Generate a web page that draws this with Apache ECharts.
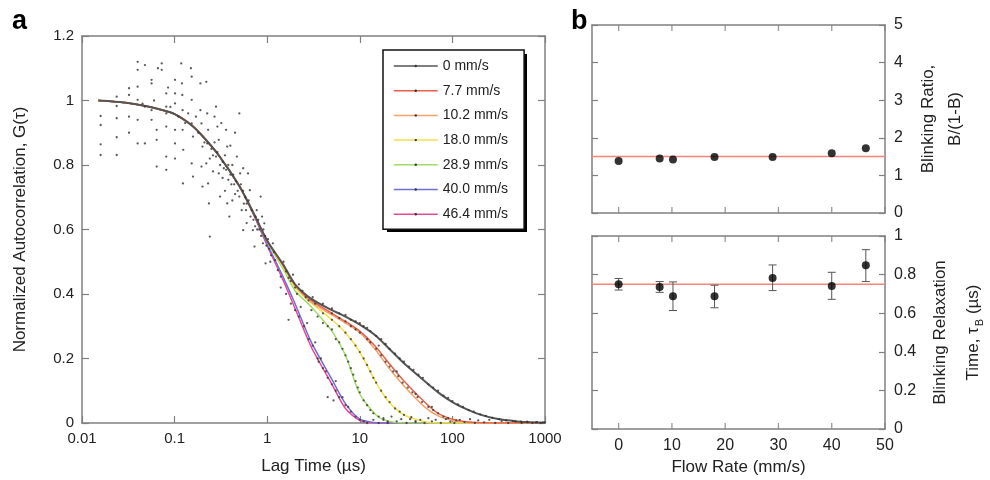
<!DOCTYPE html>
<html><head><meta charset="utf-8">
<script src="https://cdn.jsdelivr.net/npm/echarts@6/dist/echarts.min.js"></script>
<style>html,body{margin:0;padding:0;background:#fff}#c{width:990px;height:480px}</style>
</head><body><div id="c"></div>
<script>
// ---------- Panel a data ----------
const lagTimes = [0.015,0.02,0.03,0.05,0.07,0.1,0.15,0.2,0.3,0.5,0.7,1,1.5,2,3,5,7,10,15,20,30,50,70,100,150,200,300,500,700,1000];
const fit0mm   = [1.0,0.998,0.993,0.982,0.972,0.958,0.925,0.89,0.83,0.735,0.655,0.565,0.49,0.43,0.385,0.35,0.33,0.305,0.27,0.235,0.185,0.13,0.095,0.065,0.04,0.026,0.013,0.005,0.002,0.001];
const fit7mm   = [1.0,0.998,0.993,0.982,0.972,0.958,0.925,0.89,0.83,0.735,0.655,0.565,0.488,0.428,0.38,0.34,0.315,0.285,0.235,0.19,0.13,0.065,0.03,0.012,0.003,0.001,0,0,0,0];
const fit10mm  = [1.0,0.998,0.993,0.982,0.972,0.958,0.925,0.89,0.83,0.735,0.655,0.565,0.486,0.426,0.375,0.335,0.31,0.28,0.225,0.175,0.115,0.05,0.022,0.008,0.002,0,0,0,0,0];
const fit18mm  = [1.0,0.998,0.993,0.982,0.972,0.958,0.925,0.89,0.83,0.735,0.655,0.563,0.482,0.42,0.372,0.32,0.28,0.22,0.125,0.07,0.025,0.004,0,0,0,0,0,0,0,0];
const fit29mm  = [1.0,0.998,0.993,0.982,0.972,0.958,0.925,0.89,0.83,0.735,0.655,0.562,0.476,0.41,0.36,0.285,0.21,0.09,0.025,0.006,0,0,0,0,0,0,0,0,0,0];
const fit40mm  = [1.0,0.998,0.993,0.982,0.972,0.958,0.925,0.89,0.83,0.735,0.653,0.555,0.45,0.37,0.25,0.135,0.06,0.012,0.001,0,0,0,0,0,0,0,0,0,0,0];
const fit46mm  = [1.0,0.998,0.993,0.982,0.972,0.958,0.925,0.89,0.83,0.734,0.651,0.55,0.44,0.355,0.235,0.12,0.045,0.008,0,0,0,0,0,0,0,0,0,0,0,0];
const flowLabels = ['0 mm/s','7.7 mm/s','10.2 mm/s','18.0 mm/s','28.9 mm/s','40.0 mm/s','46.4 mm/s'];
const fitColors = ['#555555','#e8604e','#f3a26a','#f2e04a','#a2dc6a','#6f6fdc','#e8489a'];
const rawPoints = [
 [0.0159,0.952],[0.0159,0.924],[0.0159,0.864],[0.0159,0.831],
 [0.0237,1.012],[0.0237,0.983],[0.0237,0.945],[0.0237,0.886],[0.0237,0.831],
 [0.0322,1.038],[0.0322,1.017],[0.0322,0.95],[0.0322,0.9],
 [0.0399,1.12],[0.0399,1.095],[0.0399,1.043],[0.0399,1.002],[0.0399,0.94],[0.0399,0.867],
 [0.0478,1.11],[0.0478,0.981],[0.0478,0.867],
 [0.0564,1.064],[0.0564,1.053],[0.0564,0.97],[0.0564,0.94],
 [0.0726,1.115],[0.0726,1.095],[0.0641,0.878],[0.0641,0.795],[0.0641,0.909],
 [0.0813,1.022],[0.0813,0.981],[0.0813,0.96],[0.0813,0.919],[0.0813,0.826],[0.0813,0.785],
 [0.101,1.064],[0.101,1.022],[0.101,0.991],[0.101,0.909],[0.101,0.867],[0.101,0.82],
 [0.123,0.743],[0.118,1.115],[0.12,1.053],[0.121,1.017],[0.122,0.97],[0.122,0.909],[0.124,0.847],
 [0.153,1.074],[0.153,1.002],[0.153,0.929],[0.158,0.888],[0.153,0.805],[0.158,0.764],
 [0.19,1.053],[0.19,0.97],[0.195,0.929],[0.2,0.857],[0.195,0.795],[0.2,0.733],
 [0.22,1.058],[0.225,0.96],[0.23,0.909],[0.225,0.867],[0.22,0.805],[0.23,0.743],[0.235,0.681],[0.24,0.578],
 [0.28,0.981],[0.29,0.919],[0.3,0.878],[0.28,0.826],[0.3,0.774],[0.31,0.702],
 [0.36,0.909],[0.37,0.857],[0.36,0.785],[0.38,0.754],[0.37,0.681],[0.39,0.64],
 [0.5,0.96],[0.47,0.826],[0.51,0.774],[0.5,0.702],[0.53,0.66],[0.55,0.598],
 [0.62,0.774],[0.65,0.722],[0.68,0.66],[0.7,0.598],[0.73,0.547],
 [0.85,0.702],[0.88,0.64],[0.93,0.619],[0.9,0.557],[0.96,0.495],
 [1.15,0.557],[1.22,0.505],[1.3,0.474],[1.4,0.454],
 [0.25,0.85],[0.26,0.83],[0.27,0.87],[0.33,0.81],[0.34,0.79],[0.4,0.77],[0.42,0.8],[0.44,0.74],[0.45,0.71],
 [0.55,0.72],[0.6,0.68],[0.58,0.7],[0.75,0.64],[0.78,0.6],[0.8,0.63],[0.95,0.58],[1.05,0.54],[1.1,0.52],
 [0.17,0.95],[0.18,0.9],[0.14,0.96],[0.13,0.93],[0.11,0.95],[0.09,0.98],[0.085,1.04],[0.06,1.0],[0.045,0.99],
 [0.066,1.1],[0.15,1.1],[0.27,0.95],[0.32,0.93],[0.45,0.9],[0.4,0.86],[0.35,0.72],[0.6,0.62],[0.55,0.79],[0.42,0.69],
 [0.21,0.87],[0.24,0.82],[0.26,0.78],[0.29,0.84],[0.31,0.8],[0.33,0.76],[0.35,0.83],[0.38,0.8],[0.41,0.74],
 [0.43,0.77],[0.46,0.75],[0.48,0.72],[0.52,0.74],[0.56,0.68],[0.59,0.66],[0.63,0.69],[0.66,0.64],[0.71,0.63],
 [0.74,0.61],[0.77,0.66],[0.82,0.6],[0.86,0.58],[0.91,0.6],[0.98,0.55],[1.02,0.57],[1.08,0.5],[1.18,0.53],
 [1.5,0.5],[1.6,0.47],[1.7,0.45],[1.8,0.44],[1.9,0.46],[2.0,0.42],[2.1,0.4],[2.2,0.43],[2.4,0.41],[2.6,0.39],
 [2.8,0.38],[3.1,0.39],[3.3,0.37],[1.4,0.42],[1.6,0.4],[1.8,0.37],[2.0,0.35],[2.2,0.33],[2.5,0.3],[2.8,0.26],
 [3.1,0.24],[3.5,0.2],[4,0.17],[4.5,0.14],[5,0.12],[5.5,0.1],[6,0.08],[7,0.055],[8,0.035],[9,0.02],[10,0.01],[11,0.005],
 [2.3,0.36],[2.7,0.31],[3.3,0.25],[3.8,0.2],[4.3,0.16],[5.5,0.13],[6.5,0.08],[7.5,0.05],[1.7,0.32],[3.6,0.19],[4.5,0.08],[5.2,0.07],
 [3,0.35],[3.5,0.33],[4,0.31],[4.5,0.3],[5,0.29],[5.5,0.26],[6,0.25],[6.5,0.23],[7,0.21],[7.5,0.19],[8,0.17],[8.5,0.15],
 [9,0.13],[9.5,0.11],[10,0.095],[11,0.07],[12,0.055],[13,0.04],[14,0.03],[16,0.02],[18,0.01],[20,0.005],
 [4,0.34],[5,0.32],[6,0.3],[7,0.28],[8,0.26],[9,0.24],[10,0.22],[11,0.2],[12,0.18],[13,0.16],[14,0.14],[15,0.125],
 [17,0.1],[19,0.08],[21,0.065],[24,0.045],[27,0.035],[30,0.025],[35,0.012],[40,0.006],
 [5,0.34],[6,0.325],[7,0.315],[8,0.3],[9,0.29],[10,0.28],[12,0.26],[13,0.25],[15,0.23],[17,0.21],[19,0.19],[21,0.175],
 [23,0.16],[26,0.145],[29,0.125],[33,0.11],[37,0.095],[42,0.08],[47,0.065],[55,0.05],[62,0.04],[70,0.03],[80,0.02],
 [90,0.015],[110,0.008],[16,0.24],[25,0.16],[40,0.09],[60,0.05],
 [4,0.37],[5,0.355],[6,0.34],[7,0.335],[8,0.32],[9,0.315],[10,0.31],[11,0.3],[12,0.295],[13,0.285],[15,0.27],[17,0.26],
 [19,0.245],[21,0.23],[24,0.215],[27,0.2],[30,0.19],[34,0.175],[38,0.165],[43,0.15],[48,0.14],[55,0.12],[62,0.11],
 [70,0.1],[80,0.085],[90,0.078],[100,0.068],[115,0.058],[130,0.05],[150,0.04],[170,0.035],[200,0.027],[230,0.022],
 [270,0.016],[320,0.012],[380,0.008],[450,0.006],[550,0.004],[650,0.003],[800,0.002],[950,0.002],
 [12,0.0],[14,0.01],[16,0.0],[18,0.015],[20,0.0],[22,0.02],[25,0.005],[28,0.012],[32,0.0],[36,0.018],[40,0.003],
 [45,0.01],[50,0.0],[55,0.015],[60,0.005],[66,0.01],[75,0.0],[85,0.012],[95,0.004],[105,0.0],[120,0.01],[135,0.003],
 [155,0.012],[175,0.0],[190,0.008],[220,0.002],[250,0.01],[290,0.0],[340,0.006],[400,0.0],[480,0.005],[560,0.0],
 [640,0.004],[730,0.0],[820,0.003],[900,0.0],[1000,0.002]
];

// ---------- Panel b data ----------
const flowRates = [0, 7.7, 10.2, 18.0, 28.9, 40.0, 46.4];
const blinkRatio = [1.38, 1.45, 1.42, 1.49, 1.49, 1.59, 1.72];
const blinkRatioFit = 1.5;
const relaxTime = [0.75, 0.736, 0.688, 0.688, 0.783, 0.741, 0.848];
const relaxLow  = [0.72, 0.708, 0.614, 0.628, 0.717, 0.672, 0.764];
const relaxHigh = [0.78, 0.764, 0.762, 0.745, 0.85, 0.812, 0.929];
const relaxFit = 0.75;
const flowTicks = [0, 10, 20, 30, 40, 50];

const FONT = '"Liberation Sans", Arial, sans-serif';
const AX = '#808080';
const TXT = '#222';

const fits = [fit0mm, fit7mm, fit10mm, fit18mm, fit29mm, fit40mm, fit46mm];

function fmtNum(v){ return String(Number(v.toPrecision(6))); }

const baseAxis = (extra) => Object.assign({
  axisLine: {show: true, onZero: false, lineStyle: {color: AX, width: 1.5}},
  axisTick: {show: true, inside: true, length: 7, lineStyle: {color: AX, width: 1.2}},
  splitLine: {show: false},
  axisLabel: {show: false},
}, extra);
const yTick = {show: true, inside: true, length: 6, lineStyle: {color: AX, width: 1.2}};
const noTick = {show: false};

const option = {
  animation: false,
  backgroundColor: '#fff',
  textStyle: {fontFamily: FONT},
  grid: [
    {left: 82, top: 36, width: 463, height: 387},
    {left: 592, top: 25, width: 293, height: 188},
    {left: 592, top: 236, width: 293, height: 193}
  ],
  xAxis: [
    baseAxis({type: 'log', logBase: 10, min: 0.01, max: 1000, gridIndex: 0, position: 'bottom',
      axisLabel: {show: true, fontSize: 15, color: TXT, margin: 8, fontFamily: FONT, formatter: fmtNum},
      name: 'Lag Time (µs)', nameLocation: 'middle', nameGap: 35,
      nameTextStyle: {fontSize: 17, color: TXT, fontFamily: FONT}}),
    baseAxis({type: 'log', logBase: 10, min: 0.01, max: 1000, gridIndex: 0, position: 'top'}),
    baseAxis({type: 'value', min: -5, max: 50, gridIndex: 1, position: 'bottom', axisTick: noTick}),
    baseAxis({type: 'value', min: -5, max: 50, gridIndex: 1, position: 'top', axisTick: noTick}),
    baseAxis({type: 'value', min: -5, max: 50, gridIndex: 2, position: 'bottom', axisTick: noTick,
      axisLabel: {show: true, customValues: flowTicks, fontSize: 16, color: TXT, margin: 9, fontFamily: FONT},
      name: 'Flow Rate (mm/s)', nameLocation: 'middle', nameGap: 30,
      nameTextStyle: {fontSize: 17, color: TXT, fontFamily: FONT}}),
    baseAxis({type: 'value', min: -5, max: 50, gridIndex: 2, position: 'top', axisTick: noTick})
  ],
  yAxis: [
    baseAxis({type: 'value', min: 0, max: 1.2, interval: 0.2, gridIndex: 0, position: 'left',
      axisLabel: {show: true, fontSize: 15, color: TXT, margin: 8, fontFamily: FONT},
      name: 'Normalized Autocorrelation, G(τ)', nameLocation: 'middle', nameGap: 53,
      nameTextStyle: {fontSize: 17, color: TXT, fontFamily: FONT}}),
    baseAxis({type: 'value', min: 0, max: 1.2, interval: 0.2, gridIndex: 0, position: 'right'}),
    baseAxis({type: 'value', min: 0, max: 5, interval: 1, gridIndex: 1, position: 'right', axisTick: yTick,
      axisLabel: {show: true, fontSize: 16, color: TXT, margin: 9, fontFamily: FONT},
      name: 'Blinking Ratio,\nB/(1-B)', nameLocation: 'middle', nameGap: 30,
      nameTextStyle: {fontSize: 17, color: TXT, fontFamily: FONT, lineHeight: 27}}),
    baseAxis({type: 'value', min: 0, max: 5, interval: 1, gridIndex: 1, position: 'left', axisTick: yTick}),
    baseAxis({type: 'value', min: 0, max: 1, interval: 0.2, gridIndex: 2, position: 'right', axisTick: yTick,
      axisLabel: {show: true, fontSize: 16, color: TXT, margin: 9, fontFamily: FONT},
      name: '{n|Blinking Relaxation}\n{n|Time, τ}{s|B}{n| (µs)}', nameLocation: 'middle', nameGap: 39,
      nameTextStyle: {fontSize: 17, color: TXT, fontFamily: FONT,
        rich: {n: {fontSize: 17, color: TXT, fontFamily: FONT, lineHeight: 33},
               s: {fontSize: 11, color: TXT, fontFamily: FONT, padding: [12, 0, 0, 1]}}}}),
    baseAxis({type: 'value', min: 0, max: 1, interval: 0.2, gridIndex: 2, position: 'left', axisTick: yTick})
  ],
  legend: {
    orient: 'vertical', left: 383, top: 50, selectedMode: false, z: 20,
    backgroundColor: '#fff', borderColor: '#111', borderWidth: 1.5, borderRadius: 0,
    padding: [8, 16, 7, 10],
    itemWidth: 44, itemHeight: 3, itemGap: 8.7,
    textStyle: {fontSize: 14, color: TXT, lineHeight: 16, fontFamily: FONT},
    data: flowLabels.map((n, i) => ({name: n, itemStyle: {color: '#333'}, lineStyle: {color: fitColors[i], width: 1.5}}))
  },
  graphic: [
    {type: 'rect', left: 387, top: 54, z: 15, shape: {width: 140, height: 178}, style: {fill: '#000'}},
    {type: 'text', left: 12, top: 8, style: {text: 'a', font: 'bold 27px ' + FONT, fill: '#000'}},
    {type: 'text', left: 571, top: 8, style: {text: 'b', font: 'bold 27px ' + FONT, fill: '#000'}}
  ],
  series: []
};

fits.forEach((f, i) => {
  option.series.push({
    name: flowLabels[i], type: 'line', xAxisIndex: 0, yAxisIndex: 0,
    data: lagTimes.map((t, k) => [t, f[k]]),
    showSymbol: false, symbol: 'circle', smooth: 0.25,
    lineStyle: {color: fitColors[i], width: i === 0 ? 2 : 1.5},
    itemStyle: {color: fitColors[i]}, z: 3 + (6 - i)
  });
});
option.series.push({
  type: 'scatter', xAxisIndex: 0, yAxisIndex: 0, data: rawPoints,
  symbolSize: 2.3, itemStyle: {color: '#333'}, z: 10, silent: true
});

// flow-rate tick marks on top and bottom edges of both panel-b plots (thin rect symbols pointing inward)
function flowTickMarks(xi, yi, yVal, offset) {
  return {
    type: 'scatter', xAxisIndex: xi, yAxisIndex: yi, silent: true, clip: false, z: 6,
    data: flowTicks.map(v => [v, yVal]),
    symbol: 'rect', symbolSize: [1.3, 6], symbolOffset: [0, offset],
    itemStyle: {color: AX}
  };
}
option.series.push(flowTickMarks(2, 2, 0, -3));
option.series.push(flowTickMarks(2, 2, 5, 3));
option.series.push(flowTickMarks(4, 4, 0, -3));
option.series.push(flowTickMarks(4, 4, 1, 3));

// Panel b top
option.series.push({
  type: 'line', xAxisIndex: 2, yAxisIndex: 2, showSymbol: false,
  data: [[-5, blinkRatioFit], [50, blinkRatioFit]],
  lineStyle: {color: '#f4857c', width: 1.5}, silent: true, z: 2
});
option.series.push({
  type: 'scatter', xAxisIndex: 2, yAxisIndex: 2,
  data: flowRates.map((x, i) => [x, blinkRatio[i]]),
  symbolSize: 8, itemStyle: {color: '#000'}, z: 5
});

// Panel b bottom
option.series.push({
  type: 'line', xAxisIndex: 4, yAxisIndex: 4, showSymbol: false,
  data: [[-5, relaxFit], [50, relaxFit]],
  lineStyle: {color: '#f4857c', width: 1.5}, silent: true, z: 2
});
option.series.push({
  type: 'custom', xAxisIndex: 4, yAxisIndex: 4,
  data: flowRates.map((x, i) => [x, relaxLow[i], relaxHigh[i]]),
  renderItem: function (params, api) {
    const x = api.value(0);
    const pLo = api.coord([x, api.value(1)]);
    const pHi = api.coord([x, api.value(2)]);
    const w = 4;
    const style = {stroke: '#555', lineWidth: 1};
    return {type: 'group', children: [
      {type: 'line', shape: {x1: pHi[0], y1: pHi[1], x2: pLo[0], y2: pLo[1]}, style: style},
      {type: 'line', shape: {x1: pHi[0] - w, y1: pHi[1], x2: pHi[0] + w, y2: pHi[1]}, style: style},
      {type: 'line', shape: {x1: pLo[0] - w, y1: pLo[1], x2: pLo[0] + w, y2: pLo[1]}, style: style}
    ]};
  }, z: 3
});
option.series.push({
  type: 'scatter', xAxisIndex: 4, yAxisIndex: 4,
  data: flowRates.map((x, i) => [x, relaxTime[i]]),
  symbolSize: 8, itemStyle: {color: '#000'}, z: 5
});

const chart = echarts.init(document.getElementById('c'), null, {renderer: 'canvas'});
chart.setOption(option);
</script>
</body></html>
